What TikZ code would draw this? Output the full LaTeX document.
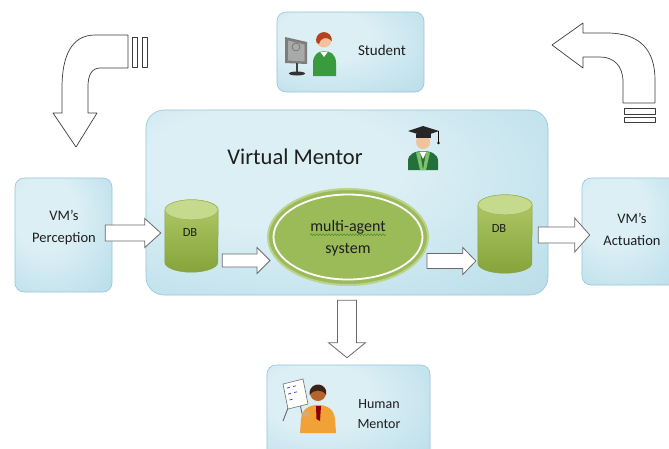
\documentclass[tikz,border=0pt]{standalone}
\usepackage{fontspec}
\setmainfont{Carlito}
\usetikzlibrary{shapes.geometric,calc,decorations.pathmorphing}

\definecolor{boxin}{HTML}{DCEFF5}
\definecolor{boxout}{HTML}{A2D2E2}
\definecolor{boxedge}{HTML}{93C6D8}
\definecolor{txt}{HTML}{1E1E1E}
\definecolor{arrowline}{HTML}{6A6A6A}
\definecolor{curveline}{HTML}{3C3C3C}
\definecolor{dbtopc}{HTML}{C6DA8E}
\definecolor{dbtopedge}{HTML}{9AB654}
\definecolor{dblight}{HTML}{B0CA68}
\definecolor{dbdark}{HTML}{86A43B}
\definecolor{masgreen}{HTML}{9BBB59}
\definecolor{masrim}{HTML}{BCD38D}
\definecolor{squiggle}{HTML}{4E8A2A}
\definecolor{skin}{HTML}{F2C29B}
\definecolor{darkskin}{HTML}{B5652B}
\definecolor{hairred}{HTML}{B5421E}
\definecolor{hairdark}{HTML}{3B2416}
\definecolor{studgreen}{HTML}{3A9A3E}
\definecolor{gowngreen}{HTML}{23703A}
\definecolor{stolegreen}{HTML}{7FC06E}
\definecolor{shirtorange}{HTML}{F0A236}
\definecolor{monitorgray}{HTML}{7D7D7D}
\definecolor{screengray}{HTML}{A9A9A9}

% soft radial fill of the rounded panels, light towards the upper left
\pgfdeclareradialshading{boxshade}{\pgfpoint{-12bp}{12bp}}{%
  color(0bp)=(boxin); color(16bp)=(boxin); color(60bp)=(boxout); color(75bp)=(boxout)}

\tikzset{
  panel/.style={rectangle, rounded corners=9pt, draw=boxedge, line width=0.6pt,
    shade, shading=boxshade},
  lbl/.style={inner sep=0pt, text=txt, align=center},
  fatarrow/.style={draw=arrowline, fill=white, line width=0.8pt, line join=miter},
  curvearrow/.style={draw=curveline, fill=white, line width=0.7pt, line join=round},
  dbbody/.style={top color=dblight, bottom color=dbdark, draw=dbdark, line width=0.5pt},
  dbtop/.style={fill=dbtopc, draw=dbtopedge, line width=0.5pt},
  anchorbox/.style={rectangle, inner sep=0pt, draw=none},
}

% horizontal block arrow: start, tip, shaft half width, head half width, head length
\newcommand\harrow[5]{%
  \draw[fatarrow] let \p1=#1, \p2=#2 in
    (\x1,\y1+#3) -- (\x2-#5,\y1+#3) -- (\x2-#5,\y1+#4) -- (\x2,\y1)
    -- (\x2-#5,\y1-#4) -- (\x2-#5,\y1-#3) -- (\x1,\y1-#3) -- cycle;}
% downward block arrow: start, tip, shaft half width, head half width, head length
\newcommand\varrow[5]{%
  \draw[fatarrow] let \p1=#1, \p2=#2 in
    (\x1-#3,\y1) -- (\x1-#3,\y2+#5) -- (\x1-#4,\y2+#5) -- (\x1,\y2)
    -- (\x1+#4,\y2+#5) -- (\x1+#3,\y2+#5) -- (\x1+#3,\y1) -- cycle;}
% database cylinder drawn inside a named box: node, x radius, y radius of the ends
\newcommand\dbcyl[3]{%
  \path[dbbody] ($(#1.north west)+(0,-#3)$) -- ($(#1.south west)+(0,#3)$)
    arc[start angle=180,end angle=360,x radius=#2,y radius=#3]
    -- ($(#1.north east)+(0,-#3)$)
    arc[start angle=0,end angle=180,x radius=#2,y radius=#3] -- cycle;
  \path[dbtop] ($(#1.north)+(0,-#3)$) ellipse[x radius=#2,y radius=#3];}

\begin{document}
\begin{tikzpicture}[x=1pt,y=1pt]
\useasboundingbox (0,0) rectangle (669,-448);
\fill[white] (0,0) rectangle (669,-448);

% ---------- panels ----------
\node[panel, minimum width=147pt, minimum height=80pt] (stud) at (350.5,-52) {};
\node[panel, rounded corners=18pt, minimum width=402pt, minimum height=185pt] (vm) at (347,-202.5) {};
\node[panel, minimum width=97pt, minimum height=114pt] (perc) at (63.5,-235) {};
\node[panel, minimum width=100pt, minimum height=107pt] (act) at (632,-231.5) {};
\node[panel, minimum width=163pt, minimum height=100pt] (hum) at (348.5,-415) {};

% ---------- panel texts ----------
\node[lbl, font=\fontsize{15}{15}\selectfont] (studtxt) at (382,-50) {Student};
\node[lbl, font=\fontsize{22.5}{24}\selectfont] (vmtxt) at (295,-157) {Virtual Mentor};
\node[lbl, font=\fontsize{14.5}{22}\selectfont] (perctxt) at (64,-228) {VM’s\\Perception};
\node[lbl, font=\fontsize{14.5}{22}\selectfont] (acttxt) at (632,-229) {VM’s\\Actuation};
\node[lbl, font=\fontsize{14}{20}\selectfont] (humtxt) at (379,-414) {Human\\Mentor};

% ---------- databases ----------
\node[anchorbox, minimum width=53pt, minimum height=72pt] (db1) at (191.5,-236) {};
\dbcyl{db1}{26.5}{10}
\node[lbl, font=\fontsize{12.5}{12.5}\selectfont] (db1txt) at (190,-232) {DB};

\node[anchorbox, minimum width=54pt, minimum height=78pt] (db2) at (505,-234) {};
\dbcyl{db2}{27}{10}
\node[lbl, font=\fontsize{12.5}{12.5}\selectfont] (db2txt) at (499,-228) {DB};

% ---------- multi-agent system ----------
\node[ellipse, minimum width=160pt, minimum height=96pt, fill=masgreen, draw=masrim,
      line width=2pt] (mas) at (348,-237) {};
\draw[white, line width=1.8pt] (mas.center) ellipse[x radius=74.5, y radius=42.5];
\node[lbl, font=\fontsize{16}{16}\selectfont] (masl1) at ($(mas.center)+(0,10)$) {multi-agent};
\node[lbl, font=\fontsize{16}{16}\selectfont] (masl2) at ($(mas.center)+(0,-13)$) {system};
\draw[squiggle, line width=0.45pt, decorate,
      decoration={snake, amplitude=1pt, segment length=3pt}]
  ($(masl1.base west)+(0,-3.5)$) -- ($(masl1.base east)+(0,-3.5)$);

% ---------- block arrows ----------
\harrow{($(perc.east)+(-7,2)$)}{($(db1.west)+(-4,0)$)}{8pt}{14.5pt}{16pt}
\harrow{($(db1.east)+(4,-24.5)$)}{($(mas.west)+(3,0)$)}{6.5pt}{13pt}{13pt}
\harrow{($(mas.east)+(-2,-24)$)}{($(db2.west)+(-2,0)$)}{7.5pt}{13.5pt}{13pt}
\harrow{($(db2.east)+(6,-1)$)}{($(act.west)+(8,0)$)}{8pt}{17pt}{15pt}
\varrow{($(vm.south)+(0,-5)$)}{($(hum.north)+(0,7)$)}{9.5pt}{18.5pt}{15pt}

% ---------- curved arrows ----------
\path[curvearrow] (128,-35) -- (95,-35) .. controls (72,-35) and (62,-55) .. (62,-88)
  -- (62,-113) -- (53,-113) -- (76,-147) -- (97,-113) -- (88,-113) -- (88,-86)
  .. controls (88,-75) and (92,-68) .. (100,-68) -- (128,-68) -- cycle;
\path[curvearrow] (132,-37) rectangle (137.5,-67);
\path[curvearrow] (142.5,-37) rectangle (147,-67);

\path[curvearrow] (583,-33) -- (607,-33) .. controls (640,-33) and (655,-50) .. (655,-80)
  -- (655,-103) -- (623,-103) -- (623,-82) .. controls (623,-66) and (614,-57) .. (600,-57)
  -- (583,-57) -- (583,-68) -- (552,-45) -- (583,-23) -- cycle;
\path[curvearrow] (624,-108) rectangle (655,-114);
\path[curvearrow] (624,-117.5) rectangle (655,-122);

% ---------- student at a computer ----------
\fill[monitorgray] (285,-37) -- (307,-42) -- (307,-64) -- (285,-63) -- cycle;
\fill[screengray] (288,-40.5) -- (304.5,-44.5) -- (304.5,-61.5) -- (288,-60.5) -- cycle;
\draw[monitorgray!70!black] (296,-47) circle[radius=4];
\draw[black!75, line width=1.5pt] (297,-63) -- (297,-72);
\fill[black!80] (297,-73.5) ellipse[x radius=8, y radius=2];
\fill[studgreen] (313,-76) -- (313,-63) .. controls (313,-54) and (319,-51) .. (324,-51)
  .. controls (330,-51) and (336,-54) .. (336,-63) -- (336,-76) -- cycle;
\fill[white] (320,-51.5) -- (324,-57) -- (328,-51.5) -- cycle;
\fill[skin] (324,-40) circle[radius=7.5];
\fill[hairred] (324,-40) ++(200:7.9) arc[start angle=200,end angle=-10,radius=7.9]
  .. controls (327,-36) and (321,-37) .. (319,-44) -- cycle;

% ---------- graduate (virtual mentor) ----------
\fill[gowngreen] (408,-170) -- (408,-161) .. controls (408,-154) and (415,-151) .. (423,-151)
  .. controls (431,-151) and (438,-154) .. (438,-161) -- (438,-170) -- cycle;
\fill[stolegreen] (416,-152.5) -- (420,-170) -- (423,-170) -- (420,-152) -- cycle;
\fill[stolegreen] (430,-152.5) -- (426,-170) -- (423,-170) -- (426,-152) -- cycle;
\fill[white] (419.5,-151.5) -- (423,-159) -- (426.5,-151.5) -- cycle;
\fill[skin] (423,-142) circle[radius=7];
\fill[black!85] (415.5,-134) rectangle (430.5,-138);
\fill[black!85] (408,-131) -- (423,-126) -- (439,-131) -- (424,-136) -- cycle;
\draw[black, line width=0.8pt] (438.5,-131) -- (438.5,-142);
\fill[black] (438.5,-143) circle[radius=1.3];

% ---------- human mentor at an easel ----------
\draw[black!60, line width=0.9pt] (288,-408) -- (283,-421) (300,-404) -- (303,-418);
\filldraw[fill=white, draw=black!55, line width=0.6pt]
  (283,-384) -- (303,-379) -- (308,-404) -- (288,-409) -- cycle;
\draw[blue!55!gray, line width=0.7pt]
  (287,-388) -- (290,-387.3) (293,-386.5) -- (296,-385.8)
  (288,-394) -- (291,-393.3) (294,-392.5) -- (297,-391.8)
  (289.5,-400) -- (292.5,-399.3);
\fill[shirtorange] (300,-433) -- (301,-419) .. controls (302,-409) and (309,-405) .. (318,-405)
  .. controls (327,-405) and (334,-409) .. (335,-419) -- (336,-433) -- cycle;
\fill[skin!70!darkskin] (306,-414) circle[radius=3];
\fill[red!55!black] (316,-406) -- (321,-406) -- (320,-421) -- (316.5,-419) -- cycle;
\fill[darkskin] (318,-393) circle[radius=8];
\fill[hairdark] (318,-393) ++(195:8.5) arc[start angle=195,end angle=-15,radius=8.5]
  .. controls (323,-389) and (313,-389) .. cycle;
\end{tikzpicture}
\end{document}
